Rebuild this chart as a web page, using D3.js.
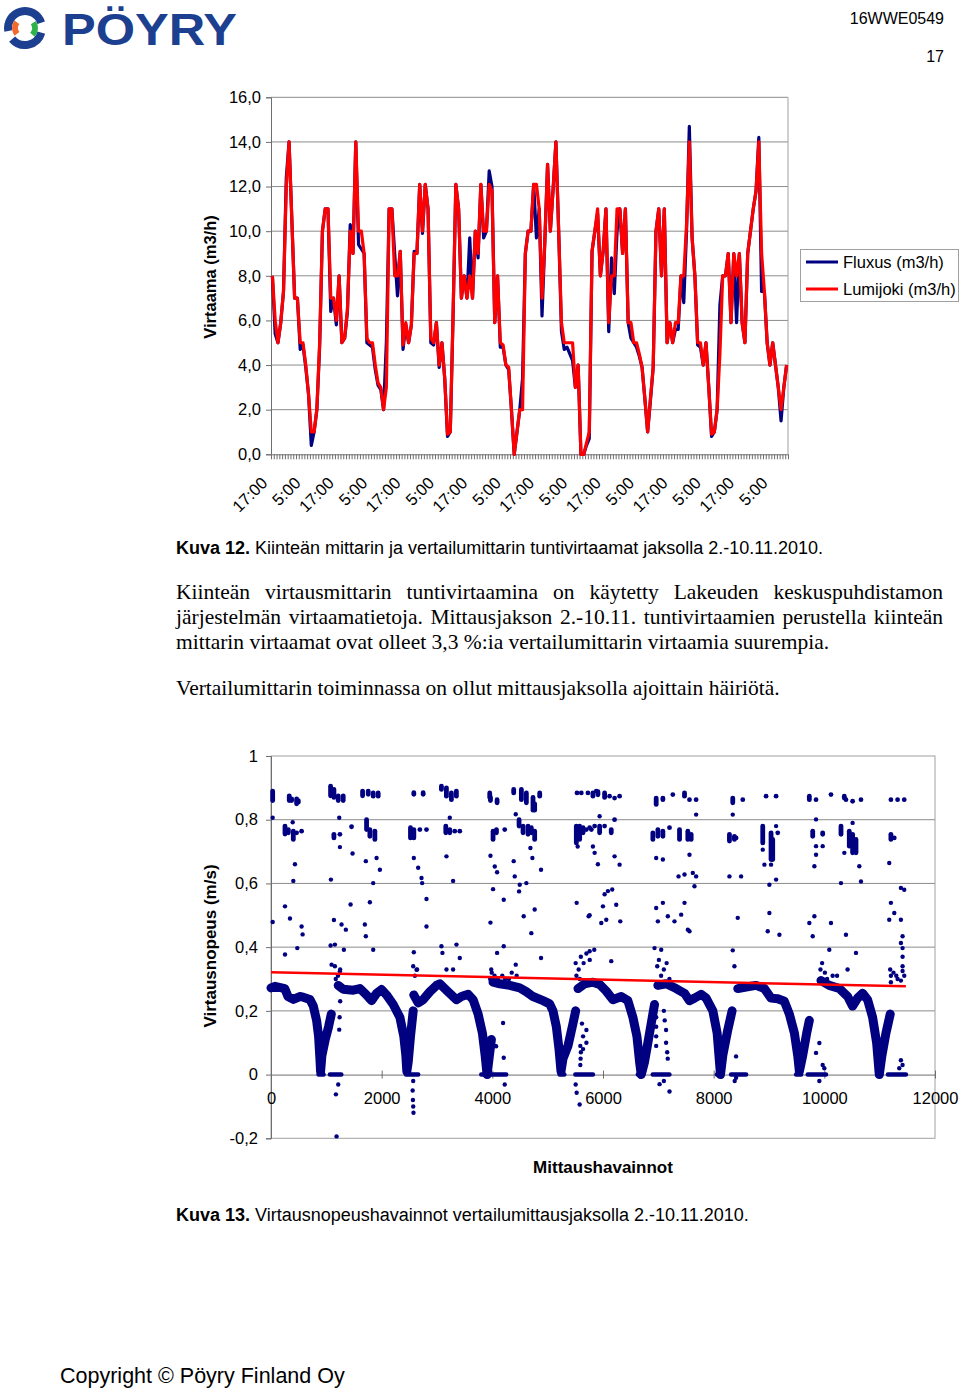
<!DOCTYPE html>
<html><head><meta charset="utf-8">
<script src="https://cdn.jsdelivr.net/npm/d3@7"></script>
<style>
body{margin:0;background:#fff;}
svg{display:block;}
text{font-family:"Liberation Sans",Arial,sans-serif;fill:#000;}
.serif{font-family:"Liberation Serif","Times New Roman",serif;font-size:21.5px;}
</style></head><body>
<svg id="page" width="960" height="1390"></svg>
<script>
// ---------------- DATA: chart 1 (hourly flows, m3/h) ----------------
const topXLabels = ["17:00","5:00","17:00","5:00","17:00","5:00","17:00","5:00","17:00","5:00","17:00","5:00","17:00","5:00","17:00","5:00"];
const topYTicks = [0,2,4,6,8,10,12,14,16];
const seriesNames = ["Fluxus (m3/h)","Lumijoki (m3/h)"];
const fluxus = [
8.0,5.4,5.0,5.9,7.3,12.4,14.0,10.5,7.0,7.0,4.7,4.9,
3.9,2.7,0.4,1.0,2.0,4.8,10.0,11.0,11.0,6.4,7.0,5.8,
8.0,5.0,5.2,6.4,10.3,9.0,14.0,9.4,9.2,9.0,5.0,4.9,
4.8,3.8,3.1,2.9,2.0,5.0,11.0,11.0,9.0,7.1,9.1,4.7,
5.8,5.0,5.8,9.1,9.0,12.1,9.9,12.1,11.0,5.0,4.9,5.9,
3.9,5.0,3.4,0.8,1.0,6.2,12.1,11.0,7.0,8.0,7.0,9.7,
7.0,10.0,8.8,12.1,9.7,10.0,12.7,12.0,5.9,8.0,4.8,4.8,
4.0,3.8,2.0,0.0,1.0,2.0,3.4,9.0,10.0,10.0,12.1,9.7,
11.0,6.2,9.5,13.0,10.0,11.9,14.0,10.0,5.5,4.7,4.8,4.5,
4.2,3.0,4.0,0.0,0.0,0.4,0.7,9.1,10.0,10.8,8.0,9.1,
11.0,5.5,8.8,7.2,10.0,11.0,9.0,11.0,5.9,5.2,5.0,4.8,
4.4,3.9,2.5,1.0,2.4,3.9,10.0,11.0,8.0,11.0,5.0,5.9,
5.0,5.6,5.6,8.0,6.8,10.0,14.7,9.7,8.0,4.9,4.8,4.0,
5.0,3.0,0.8,1.0,2.0,6.7,8.0,8.0,9.0,5.9,9.0,5.9,
9.0,5.9,5.0,9.0,10.0,11.0,11.8,14.2,7.3,7.3,5.0,4.0,
5.0,4.0,3.0,1.5,3.0,4.0];
const lumijoki = [
8.0,6.0,5.0,5.9,7.3,12.0,14.0,10.5,7.0,7.0,5.0,5.0,
4.0,2.7,1.0,1.0,2.0,5.0,10.0,11.0,11.0,7.0,7.0,6.0,
8.0,5.0,5.2,6.5,10.0,9.0,14.0,10.0,10.0,9.0,5.2,5.0,
5.0,4.0,3.2,3.0,2.0,3.0,11.0,11.0,8.0,8.0,9.1,4.9,
5.9,5.0,5.8,9.0,9.0,12.1,10.0,12.1,11.0,5.2,5.0,5.9,
4.0,5.0,3.4,0.9,1.0,6.2,12.1,11.0,7.0,8.0,7.0,8.0,
7.0,10.0,9.0,12.1,10.0,10.0,12.1,11.8,5.9,8.0,5.0,4.9,
4.0,3.9,2.0,0.0,1.0,2.0,2.0,9.0,10.0,10.0,12.1,12.1,
11.0,7.0,9.5,13.0,10.0,11.9,14.0,10.0,5.9,5.0,5.0,5.0,
5.0,3.0,4.0,0.0,0.0,0.5,1.0,9.1,10.0,11.0,8.0,9.1,
11.0,5.9,8.0,8.0,11.0,11.0,9.0,11.0,5.9,5.9,5.0,5.0,
4.5,3.9,2.5,1.0,2.5,3.9,10.0,11.0,8.0,11.0,5.0,5.9,
5.0,5.9,5.9,8.0,8.0,10.3,14.0,9.7,8.0,5.0,5.0,4.0,
5.0,3.0,0.9,1.0,2.0,4.5,8.0,8.0,9.0,5.9,9.0,8.0,
9.0,5.9,5.0,9.0,10.0,11.0,11.8,14.0,9.0,7.3,5.0,4.0,
5.0,4.0,3.0,2.0,3.0,4.0];

// ---------------- DATA: chart 2 (velocity observations, m/s) ----------------
const botYTicks = [-0.2,0,0.2,0.4,0.6,0.8,1];
const botXTicks = [0,2000,4000,6000,8000,10000,12000];
// dense daily band, read as [observation, velocity]
const bandDay1 = [[0,0.272],[72,0.277],[250,0.27],[307,0.245],[403,0.236],[520,0.245],[583,0.243],[704,0.236],[764,0.215],[824,0.17],[860,0.12],[884,0.05],[896,0.01],[920,0.06],[980,0.11],[1040,0.15],[1090,0.19]];
const bandDay2 = [[1215,0.28],[1305,0.268],[1486,0.265],[1606,0.27],[1727,0.25],[1817,0.232],[1908,0.255],[1998,0.267],[2088,0.25],[2209,0.22],[2329,0.18],[2400,0.12],[2437,0.06],[2455,0.01],[2480,0.04],[2521,0.12],[2570,0.2]];
const bandDay3 = [[2580,0.25],[2660,0.225],[2750,0.235],[2870,0.26],[2990,0.28],[3051,0.285],[3171,0.265],[3352,0.235],[3442,0.245],[3562,0.252],[3653,0.235],[3743,0.19],[3821,0.13],[3870,0.06],[3905,0.0],[3940,0.05],[3983,0.11]];
const bandDay4 = [[4013,0.29],[4134,0.285],[4314,0.28],[4495,0.272],[4615,0.26],[4735,0.245],[4916,0.232],[5036,0.222],[5096,0.2],[5157,0.15],[5205,0.08],[5241,0.01],[5277,0.05],[5367,0.09],[5457,0.16],[5506,0.2]];
const bandDay5 = [[5548,0.27],[5668,0.285],[5818,0.29],[5939,0.283],[6059,0.262],[6180,0.235],[6330,0.245],[6450,0.232],[6540,0.18],[6613,0.12],[6661,0.04],[6691,0.0],[6751,0.04],[6841,0.13],[6931,0.22]];
const bandDay6 = [[6992,0.28],[7142,0.285],[7322,0.27],[7473,0.255],[7563,0.232],[7653,0.24],[7774,0.252],[7864,0.24],[7985,0.2],[8063,0.13],[8105,0.04],[8123,0.0],[8165,0.06],[8255,0.14],[8333,0.2]];
const bandDay7 = [[8436,0.27],[8586,0.275],[8767,0.28],[8917,0.27],[9037,0.24],[9158,0.238],[9278,0.23],[9368,0.19],[9459,0.13],[9519,0.06],[9549,0.01],[9609,0.06],[9681,0.13],[9729,0.17]];
const bandDay8 = [[9940,0.295],[10090,0.28],[10271,0.27],[10421,0.245],[10511,0.215],[10601,0.24],[10692,0.255],[10782,0.235],[10872,0.18],[10945,0.1],[10993,0.0],[11041,0.06],[11113,0.13],[11191,0.19]];
// runs of zero readings [from, to]
const zeroRuns = [[860,950],[1065,1270],[2440,2660],[3800,4250],[5217,5300],[5500,5818],[6630,6720],[6900,7200],[8060,8130],[8315,8586],[9490,9580],[9700,10030],[10960,11020],[11150,11474]];
// short vertical streaks of readings [observation, vLow, vHigh]
const highStreaks = [
[30,0.86,0.89],[330,0.86,0.875],[373,0.86,0.865],[463,0.85,0.865],[493,0.855,0.86],
[1077,0.875,0.905],[1137,0.87,0.895],[1215,0.86,0.875],[1305,0.86,0.875],
[1655,0.875,0.89],[1757,0.88,0.89],[1847,0.874,0.884],[1937,0.874,0.884],
[2581,0.88,0.885],[2750,0.88,0.885],
[3080,0.895,0.905],[3170,0.874,0.9],[3260,0.863,0.884],[3350,0.874,0.89],
[3953,0.87,0.884],[3966,0.86,0.87],[4086,0.853,0.863],
[4386,0.884,0.895],[4525,0.863,0.895],[4615,0.853,0.884],[4735,0.83,0.87],[4765,0.83,0.85],[4856,0.874,0.884],
[5530,0.884,0.884],[5608,0.884,0.884],[5728,0.884,0.884],[5818,0.874,0.884],[5879,0.89,0.89],[5908,0.878,0.888],[6029,0.87,0.884],[6119,0.874,0.874],[6209,0.868,0.868],[6300,0.874,0.874],
[6961,0.848,0.868],[7082,0.863,0.868],[7262,0.879,0.879],[7473,0.874,0.884],[7563,0.863,0.863],[7683,0.863,0.863],
[8345,0.853,0.868],[8526,0.863,0.863],[8947,0.874,0.874],[9128,0.874,0.874],
[9729,0.863,0.874],[9850,0.863,0.863],[10120,0.879,0.879],[10361,0.868,0.874],[10391,0.863,0.863],[10511,0.858,0.858],[10662,0.863,0.863],
[11203,0.863,0.863],[11324,0.863,0.863],[11444,0.863,0.863]];
const midStreaks = [
[253,0.755,0.78],[313,0.759,0.769],[403,0.738,0.764],[463,0.759,0.759],[553,0.764,0.764],
[1137,0.743,0.754],[1245,0.754,0.754],[1456,0.778,0.778],
[1727,0.769,0.8],[1787,0.748,0.769],[1877,0.738,0.764],
[2521,0.743,0.775],[2581,0.743,0.769],[2690,0.769,0.769],[2810,0.769,0.769],
[3159,0.759,0.78],[3231,0.759,0.769],[3321,0.764,0.764],[3412,0.764,0.764],
[4013,0.738,0.764],[4074,0.759,0.769],[4224,0.769,0.769],
[4483,0.78,0.8],[4555,0.759,0.78],[4645,0.754,0.78],[4705,0.759,0.775],[4765,0.738,0.764],
[5518,0.727,0.78],[5578,0.738,0.78],[5640,0.759,0.775],[5700,0.769,0.769],[5758,0.775,0.775],[5790,0.769,0.769],[5849,0.78,0.78],[5939,0.759,0.78],[6029,0.78,0.78],[6149,0.759,0.769],[6209,0.8,0.8],
[6901,0.738,0.759],[6992,0.748,0.769],[7082,0.748,0.764],[7202,0.775,0.775],[7383,0.738,0.769],[7533,0.738,0.764],[7593,0.738,0.754],
[8285,0.733,0.754],[8375,0.738,0.748],[8405,0.743,0.743],
[8887,0.727,0.78],[9037,0.675,0.759],[9067,0.675,0.738],[9158,0.759,0.759],
[9790,0.748,0.764],[9970,0.754,0.759],[10301,0.754,0.78],[10451,0.717,0.764],[10511,0.696,0.754],[10572,0.696,0.738],
[11203,0.738,0.754],[11264,0.743,0.743]];
// single scattered readings [observation, velocity]
const scattered = [
[30,0.479],[30,0.806],[253,0.528],[253,0.377],[343,0.49],[392,0.792],[433,0.66],[403,0.608],[475,0.397],[553,0.465],[571,0.44],
[1077,0.405],[1083,0.612],[1095,0.345],[1137,0.485],[1155,0.408],[1155,0.34],[1233,0.806],[1245,0.714],[1245,0.324],[1275,0.471],[1317,0.392],[1353,0.455],[1438,0.534],[1474,0.694],
[1696,0.471],[1714,0.67],[1714,0.434],[1787,0.541],[1847,0.392],[1847,0.601],[1908,0.68],[1968,0.643],
[2581,0.68],[2581,0.384],[2630,0.329],[2660,0.649],[2720,0.617],[2732,0.601],[2810,0.551],[2810,0.465],
[3080,0.403],[3098,0.382],[3171,0.685],[3171,0.33],[3231,0.806],[3291,0.608],[3291,0.33],[3352,0.408],[3412,0.366],
[3966,0.687],[3966,0.477],[4013,0.582],[4044,0.653],[4086,0.635],[4086,0.382],[4206,0.549],[4206,0.403],
[4386,0.67],[4405,0.622],[4423,0.817],[4423,0.345],[4483,0.575],[4495,0.596],[4567,0.497],[4615,0.601],[4688,0.711],[4705,0.444],[4724,0.68],[4765,0.518],[4880,0.643],[4880,0.366],
[5506,0.35],[5524,0.539],[5542,0.716],[5740,0.497],[5818,0.716],[5842,0.392],[5908,0.66],
[5939,0.811],[5849,0.696],[6209,0.685],[6300,0.659],[6029,0.566],[6089,0.576],[6167,0.581],[5999,0.528],[6239,0.533],[6059,0.486],[5969,0.476],[6312,0.481],[5758,0.5],[5758,0.387],[6149,0.356],
[6961,0.68],[7082,0.675],[6961,0.523],[7082,0.539],[6992,0.481],[7172,0.497],[7292,0.481],[6931,0.397],[7052,0.392],[7413,0.502],[7473,0.539],[7533,0.455],[7563,0.45],[7365,0.622],[7473,0.628],[7623,0.633],[7683,0.622],[7563,0.69],[7683,0.816],[7653,0.591],
[8285,0.622],[8496,0.622],[8345,0.816],[8435,0.492],[8345,0.39],[8375,0.34],
[8887,0.706],[8917,0.659],[9128,0.78],[9037,0.659],[9007,0.596],[9128,0.612],[9007,0.507],[8977,0.45],[9188,0.439],
[9729,0.476],[9820,0.497],[9790,0.434],[9850,0.801],[9850,0.717],[9970,0.717],[9850,0.69],[9820,0.654],
[10301,0.601],[10361,0.696],[10120,0.476],[10090,0.392],[10391,0.439],[10572,0.382],[10632,0.654],[10662,0.606],[10511,0.79],
[11173,0.664],[11203,0.539],[11264,0.507],[11173,0.486],[11384,0.486],[11384,0.586],[11444,0.58],[11414,0.434],[11384,0.413],[11414,0.397],[11414,0.37],[11414,0.34],[11414,0.325],[11444,0.31],[11324,0.3],[11384,0.295],[11203,0.31],[11203,0.29],
[2570,0.34],[2600,0.31],[2640,0.33],[3960,0.3],[3990,0.32],[4040,0.31],[4100,0.3],[4180,0.31],[4230,0.3],[4300,0.3],[4350,0.32],[4440,0.31],[5520,0.31],[5560,0.33],[5600,0.37],[5650,0.35],[5700,0.38],[5760,0.36],[5580,0.3],[3980,0.33],[1210,0.31],[1250,0.33],[1170,0.3],[6980,0.34],[7010,0.36],[7050,0.31],[7100,0.33],[7150,0.35],[7200,0.3],[9930,0.33],[9960,0.35],[10010,0.32],[10050,0.3],[10150,0.31],[10420,0.33],[10230,0.31],[11190,0.33],[11250,0.32],[11300,0.31],
[1233,0.141],[1215,-0.031],[1173,-0.062],[1185,-0.194],[1240,0.18],[1250,0.23],
[2560,-0.05],[2565,-0.08],[2570,-0.1],[2575,-0.12],[2570,-0.02],
[4194,0.162],[4206,0.053],[4224,-0.031],[4068,0.089],[4044,0.09],
[5506,-0.031],[5524,-0.057],[5578,-0.094],[5590,0.03],[5595,0.05],[5600,0.07],[5590,0.09],[5640,0.12],[5640,0.08],[5700,0.1],[5700,0.14],[5620,0.16],
[6961,0.18],[6961,0.15],[6961,0.12],[6961,0.09],[7100,0.2],[7115,0.17],[7140,0.14],[7140,0.1],[7160,0.07],[7170,0.05],[7202,-0.053],[7022,-0.03],[7100,-0.02],
[8405,0.057],[8405,-0.01],[8380,-0.02],
[9729,0.178],[9910,0.099],[9850,0.068],[9970,0.03],[10000,0.02],[9910,-0.02],
[11384,0.045],[11414,0.03],[11354,0.02]];
const trend = [[0,0.321],[11474,0.277]];

// ---------------- PAGE ----------------
const svg = d3.select('#page');
const loc = d3.formatLocale({decimal:",", thousands:"", grouping:[3], currency:["",""], minus:"-"});
const fmt1 = loc.format(".1f");
const fmtG = loc.format("~g");
const NAVY = "#000080", RED = "#ff0000", GRID = "#8c8c8c", AXIS = "#6e6e6e";
const FS = 16.5;

// logo
const logo = svg.append('g').attr('transform','translate(25,28)');
const arc = d3.arc();
logo.append('path').attr('fill','#1d3f8f').attr('d',arc({innerRadius:13,outerRadius:21,startAngle:-1.75,endAngle:1.25}));
logo.append('path').attr('fill','#1d3f8f').attr('d',arc({innerRadius:13,outerRadius:21,startAngle:1.85,endAngle:4.0}));
logo.append('path').attr('fill','#f26a2e').attr('d',arc({innerRadius:7,outerRadius:13,startAngle:-2.2,endAngle:-0.95}));
logo.append('path').attr('fill','#2eb24a').attr('d',arc({innerRadius:7,outerRadius:13,startAngle:1.0,endAngle:2.3}));
svg.append('text').attr('x',62).attr('y',45).attr('font-size',45).attr('font-weight',900)
  .attr('textLength',175).attr('lengthAdjust','spacingAndGlyphs').style('fill','#1d3f8f').text('PÖYRY');

svg.append('text').attr('x',944).attr('y',24).attr('text-anchor','end').attr('font-size',16).text('16WWE0549');
svg.append('text').attr('x',944).attr('y',62).attr('text-anchor','end').attr('font-size',16).text('17');

// ---------------- CHART 1 ----------------
const N = lumijoki.length;
const xTop = d3.scaleLinear().domain([0, N]).range([271, 788]);
const yTop = d3.scaleLinear().domain([0, 16]).range([454.3, 97.3]);
const c1 = svg.append('g');
c1.selectAll('line.g').data(topYTicks.filter(d=>d>0)).join('line')
  .attr('x1',271).attr('x2',788).attr('y1',d=>yTop(d)).attr('y2',d=>yTop(d))
  .attr('stroke',GRID).attr('stroke-width',1);
c1.append('line').attr('x1',788).attr('x2',788).attr('y1',yTop(16)).attr('y2',yTop(0)).attr('stroke','#a0a0a0');
const yAx1 = c1.append('g').attr('transform','translate(271,0)')
  .call(d3.axisLeft(yTop).tickValues(topYTicks).tickFormat(fmt1).tickSize(5).tickPadding(5));
yAx1.selectAll('text').attr('font-size',FS).attr('font-family','Liberation Sans, Arial, sans-serif').attr('fill','#000');
yAx1.selectAll('line,path').attr('stroke',AXIS);
const xAx1 = c1.append('g').attr('transform','translate(0,'+yTop(0)+')')
  .call(d3.axisBottom(xTop).tickValues(d3.range(0, N + 1)).tickFormat('').tickSize(5).tickSizeOuter(0));
xAx1.selectAll('line,path').attr('stroke',AXIS);
c1.selectAll('text.xl').data(topXLabels).join('text')
  .attr('transform',(d,i)=>`translate(${xTop(i*12+0.5)-4},${484}) rotate(-45)`)
  .attr('text-anchor','end').attr('font-size',FS).text(d=>d);
const line1 = d3.line().x((d,i)=>xTop(i+0.5)).y(d=>yTop(d)).curve(d3.curveLinear);
c1.append('path').datum(fluxus).attr('d',line1).attr('fill','none').attr('stroke',NAVY).attr('stroke-width',3.2).attr('stroke-linejoin','round');
c1.append('path').datum(lumijoki).attr('d',line1).attr('fill','none').attr('stroke',RED).attr('stroke-width',3.2).attr('stroke-linejoin','round');
svg.append('text').attr('transform','translate(216,277) rotate(-90)').attr('text-anchor','middle')
  .attr('font-size',FS).attr('font-weight','bold').text('Virtaama (m3/h)');
// legend
const lg = svg.append('g');
lg.append('rect').attr('x',800.5).attr('y',249.5).attr('width',158).attr('height',52).attr('fill','#fff').attr('stroke','#a0a0a0');
[NAVY, RED].forEach((c,i)=>{
  lg.append('line').attr('x1',806).attr('x2',838).attr('y1',262+i*27).attr('y2',262+i*27).attr('stroke',c).attr('stroke-width',3);
  lg.append('text').attr('x',843).attr('y',268+i*27).attr('font-size',FS).text(seriesNames[i]);
});

// caption + paragraphs
const cap1 = svg.append('text').attr('x',176).attr('y',554).attr('font-size',18);
cap1.append('tspan').attr('font-weight','bold').text('Kuva 12.');
cap1.append('tspan').text(' Kiinteän mittarin ja vertailumittarin tuntivirtaamat jaksolla 2.-10.11.2010.');
function justify(str, x, y, width){
  const words = str.split(' ');
  const nodes = words.map(w => svg.append('text').attr('class','serif').attr('x',x).attr('y',y).text(w));
  const widths = nodes.map(n => n.node().getComputedTextLength());
  const gap = (width - d3.sum(widths)) / (words.length - 1);
  let cx = x;
  nodes.forEach((n,i)=>{ n.attr('x',cx); cx += widths[i] + gap; });
}
justify('Kiinteän virtausmittarin tuntivirtaamina on käytetty Lakeuden keskuspuhdistamon',176,599,767);
justify('järjestelmän virtaamatietoja. Mittausjakson 2.-10.11. tuntivirtaamien perustella kiinteän',176,624,767);
svg.append('text').attr('class','serif').attr('x',176).attr('y',649).text('mittarin virtaamat ovat olleet 3,3 %:ia vertailumittarin virtaamia suurempia.');
svg.append('text').attr('class','serif').attr('x',176).attr('y',695).text('Vertailumittarin toiminnassa on ollut mittausjaksolla ajoittain häiriötä.');

// ---------------- CHART 2 ----------------
const xB = d3.scaleLinear().domain([0, 12000]).range([271, 935]);
const yB = d3.scaleLinear().domain([-0.2, 1]).range([1138.3, 756]);
const c2 = svg.append('g');
c2.selectAll('line.g').data([0.2,0.4,0.6,0.8]).join('line')
  .attr('x1',271).attr('x2',935).attr('y1',d=>yB(d)).attr('y2',d=>yB(d)).attr('stroke',GRID);
c2.append('rect').attr('x',271).attr('y',yB(1)).attr('width',664).attr('height',yB(-0.2)-yB(1))
  .attr('fill','none').attr('stroke','#a0a0a0');
const yAx2 = c2.append('g').attr('transform','translate(271,0)')
  .call(d3.axisLeft(yB).tickValues(botYTicks).tickFormat(fmtG).tickSize(5).tickPadding(8));
yAx2.selectAll('text').attr('font-size',FS).attr('font-family','Liberation Sans, Arial, sans-serif').attr('fill','#000');
yAx2.selectAll('line,path').attr('stroke',AXIS);
const xAx2 = c2.append('g').attr('transform','translate(0,'+yB(0)+')')
  .call(d3.axisBottom(xB).tickValues(botXTicks).tickFormat(d3.format('d')).tickSize(5).tickSizeOuter(0).tickPadding(13));
xAx2.selectAll('text').attr('font-size',FS).attr('font-family','Liberation Sans, Arial, sans-serif').attr('fill','#000');
xAx2.selectAll('line').attr('stroke',AXIS).attr('y1',-4).attr('y2',4);
xAx2.select('path').attr('stroke',AXIS);
// data marks
const bandLine = d3.line().x(d=>xB(d[0])).y(d=>yB(d[1]));
[bandDay1,bandDay2,bandDay3,bandDay4,bandDay5,bandDay6,bandDay7,bandDay8].forEach(seg=>{
  c2.append('path').datum(seg).attr('d',bandLine).attr('fill','none').attr('stroke',NAVY)
    .attr('stroke-width',9).attr('stroke-linecap','round').attr('stroke-linejoin','round');
});
c2.selectAll('line.z').data(zeroRuns).join('line')
  .attr('x1',d=>xB(d[0])).attr('x2',d=>xB(d[1])).attr('y1',yB(0)).attr('y2',yB(0))
  .attr('stroke',NAVY).attr('stroke-width',4.5).attr('stroke-linecap','round');
c2.selectAll('line.s').data(highStreaks.concat(midStreaks)).join('line')
  .attr('x1',d=>xB(d[0])).attr('x2',d=>xB(d[0])).attr('y1',d=>yB(d[1])).attr('y2',d=>yB(d[2]))
  .attr('stroke',NAVY).attr('stroke-width',4.8).attr('stroke-linecap','round');
c2.selectAll('circle.p').data(scattered).join('circle')
  .attr('cx',d=>xB(d[0])).attr('cy',d=>yB(d[1])).attr('r',2.2).attr('fill',NAVY);
c2.append('path').datum(trend).attr('d',bandLine).attr('stroke',RED).attr('stroke-width',2.5).attr('fill','none');
svg.append('text').attr('transform','translate(216,946) rotate(-90)').attr('text-anchor','middle')
  .attr('font-size',17).attr('font-weight','bold').text('Virtausnopeus (m/s)');
svg.append('text').attr('x',603).attr('y',1173).attr('text-anchor','middle')
  .attr('font-size',17).attr('font-weight','bold').text('Mittaushavainnot');
const cap2 = svg.append('text').attr('x',176).attr('y',1221).attr('font-size',18);
cap2.append('tspan').attr('font-weight','bold').text('Kuva 13.');
cap2.append('tspan').text(' Virtausnopeushavainnot vertailumittausjaksolla 2.-10.11.2010.');

svg.append('text').attr('x',60).attr('y',1383).attr('font-size',21.5).text('Copyright © Pöyry Finland Oy');
</script>
</body></html>
